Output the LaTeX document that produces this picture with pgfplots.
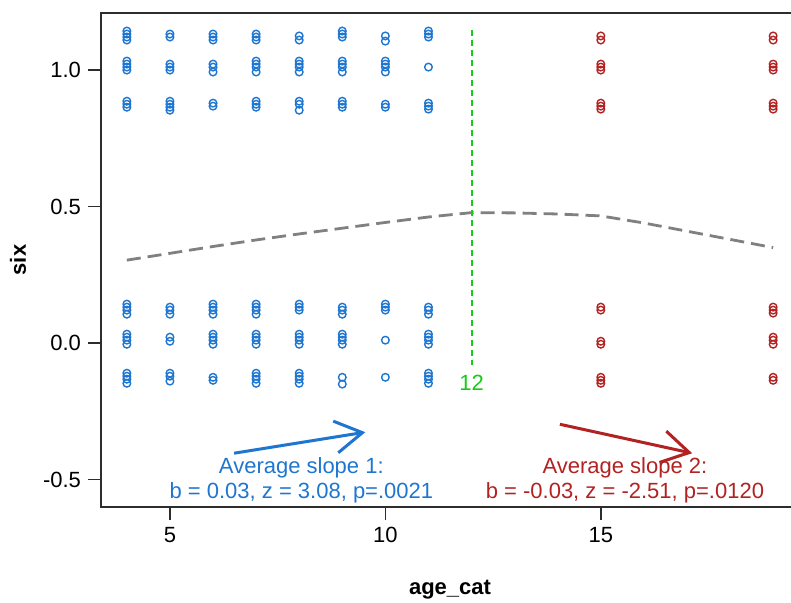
\documentclass[border=0pt]{standalone}
\usepackage{fontspec}
\setmainfont{Liberation Sans}
\usepackage{pgfplots}
\pgfplotsset{compat=1.18}
\usetikzlibrary{arrows.meta}
\definecolor{cblue}{RGB}{30,118,208}
\definecolor{cred}{RGB}{178,34,34}
\definecolor{cgreen}{RGB}{20,205,20}
\definecolor{cgray}{RGB}{128,128,128}
\definecolor{caxis}{RGB}{45,45,45}
\begin{document}
\begin{tikzpicture}
\begin{axis}[
  at={(50.5pt,47.5pt)}, anchor=south west,
  scale only axis, width=349pt, height=247pt,
  xmin=3.4, xmax=19.6, ymin=-0.6, ymax=1.209,
  axis line style={draw=caxis, line width=0.9pt},
  tick style={draw=caxis, line width=0.7pt},
  tick align=outside, major tick length=6.5pt,
  xtick pos=bottom, ytick pos=left,
  xtick={5,10,15}, xticklabels={5,10,15},
  ytick={-0.5,0,0.5,1}, yticklabels={{-0.5},{0.0},{0.5},{1.0}},
  ticklabel style={font=\fontsize{11}{13}\selectfont, text=black},
  xlabel={\textbf{age\_cat}}, ylabel={\textbf{six}},
  label style={font=\fontsize{11}{13}\selectfont},
  xlabel style={at={(axis description cs:0.5,-0.168)}, anchor=center},
  ylabel style={at={(axis description cs:-0.1189,0.5)}, anchor=center},
  clip=false,
]
% gray dashed mean curve
\addplot[color=cgray, line width=1.4pt, dash pattern=on 7pt off 3.5pt] coordinates {
(4,0.304)(5,0.329)(6,0.354)(7,0.378)(8,0.400)(9,0.421)(10,0.442)(11,0.462)(12,0.478)(13,0.477)(14,0.473)(15,0.466)(16,0.440)(17,0.410)(18,0.380)(19,0.350)};
% green cut line
\addplot[color=cgreen, solid, line width=1pt, dash pattern=on 3pt off 2pt] coordinates {(12,1.147)(12,-0.08)};
\node[text=cgreen, font=\fontsize{11}{13}\selectfont] at (axis cs:12,-0.147) {12};
% blue points
\addplot[only marks, mark=o, mark size=1.9pt, cblue, mark options={line width=0.7pt}] coordinates {
(4,1.143)(4,1.132)(4,1.121)(4,1.110)(4,1.033)(4,1.022)(4,1.011)(4,1.0)(4,0.886)(4,0.875)(4,0.864)
(4,0.143)(4,0.132)(4,0.121)(4,0.106)(4,0.033)(4,0.022)(4,0.011)(4,-0.004)(4,-0.110)(4,-0.121)(4,-0.132)(4,-0.147)
(5,1.132)(5,1.121)(5,1.022)(5,1.011)(5,1.0)(5,0.886)(5,0.875)(5,0.864)(5,0.853)
(5,0.132)(5,0.121)(5,0.106)(5,0.022)(5,0.007)(5,-0.110)(5,-0.121)(5,-0.139)
(6,1.132)(6,1.121)(6,1.110)(6,1.022)(6,1.011)(6,0.993)(6,0.879)(6,0.868)
(6,0.143)(6,0.132)(6,0.121)(6,0.106)(6,0.033)(6,0.022)(6,0.011)(6,-0.004)(6,-0.125)(6,-0.136)
(7,1.132)(7,1.121)(7,1.110)(7,1.033)(7,1.022)(7,1.011)(7,0.993)(7,0.886)(7,0.875)(7,0.864)
(7,0.143)(7,0.132)(7,0.121)(7,0.106)(7,0.033)(7,0.022)(7,0.011)(7,-0.004)(7,-0.110)(7,-0.121)(7,-0.132)(7,-0.147)
(8,1.125)(8,1.110)(8,1.033)(8,1.022)(8,1.011)(8,0.993)(8,0.886)(8,0.875)(8,0.853)
(8,0.143)(8,0.132)(8,0.121)(8,0.033)(8,0.022)(8,0.011)(8,-0.004)(8,-0.110)(8,-0.121)(8,-0.132)(8,-0.147)
(9,1.143)(9,1.132)(9,1.121)(9,1.033)(9,1.022)(9,1.011)(9,0.993)(9,0.886)(9,0.875)(9,0.864)
(9,0.132)(9,0.121)(9,0.106)(9,0.033)(9,0.022)(9,0.011)(9,-0.004)(9,-0.125)(9,-0.150)
(10,1.125)(10,1.106)(10,1.033)(10,1.022)(10,1.011)(10,0.993)(10,0.875)(10,0.864)
(10,0.143)(10,0.132)(10,0.121)(10,0.011)(10,-0.125)
(11,1.143)(11,1.132)(11,1.121)(11,1.011)(11,0.879)(11,0.868)(11,0.857)
(11,0.132)(11,0.121)(11,0.106)(11,0.033)(11,0.022)(11,0.011)(11,-0.004)(11,-0.110)(11,-0.121)(11,-0.132)(11,-0.147)
};
% red points
\addplot[only marks, mark=o, mark size=1.9pt, cred, mark options={line width=0.7pt}] coordinates {
(15,1.125)(15,1.110)(15,1.022)(15,1.011)(15,1.0)(15,0.879)(15,0.868)(15,0.857)
(15,0.132)(15,0.121)(15,0.007)(15,-0.004)(15,-0.125)(15,-0.136)(15,-0.147)
(19,1.125)(19,1.110)(19,1.022)(19,1.011)(19,1.0)(19,0.879)(19,0.868)(19,0.857)
(19,0.132)(19,0.121)(19,0.110)(19,0.022)(19,0.011)(19,-0.004)(19,-0.125)(19,-0.136)
};
% arrows
\addplot[cblue, line width=1.5pt, -{Straight Barb[length=13.5pt, width=16pt, line width=1.5pt]}] coordinates {(6.488,-0.403)(9.535,-0.326)};
\addplot[cred, line width=1.5pt, -{Straight Barb[length=13.5pt, width=16pt, line width=1.5pt]}] coordinates {(14.05,-0.297)(17.12,-0.403)};
% annotations
\node[text=cblue, align=center, font=\fontsize{11}{12.5}\selectfont] at (axis cs:8.05,-0.503) {Average slope 1:\\b = 0.03, z = 3.08, p=.0021};
\node[text=cred, align=center, font=\fontsize{11}{12.5}\selectfont] at (axis cs:15.56,-0.503) {Average slope 2:\\b = -0.03, z = -2.51, p=.0120};
\end{axis}
\pgfresetboundingbox
\useasboundingbox (0,0) rectangle (395.5pt,301pt);
\end{tikzpicture}
\end{document}
